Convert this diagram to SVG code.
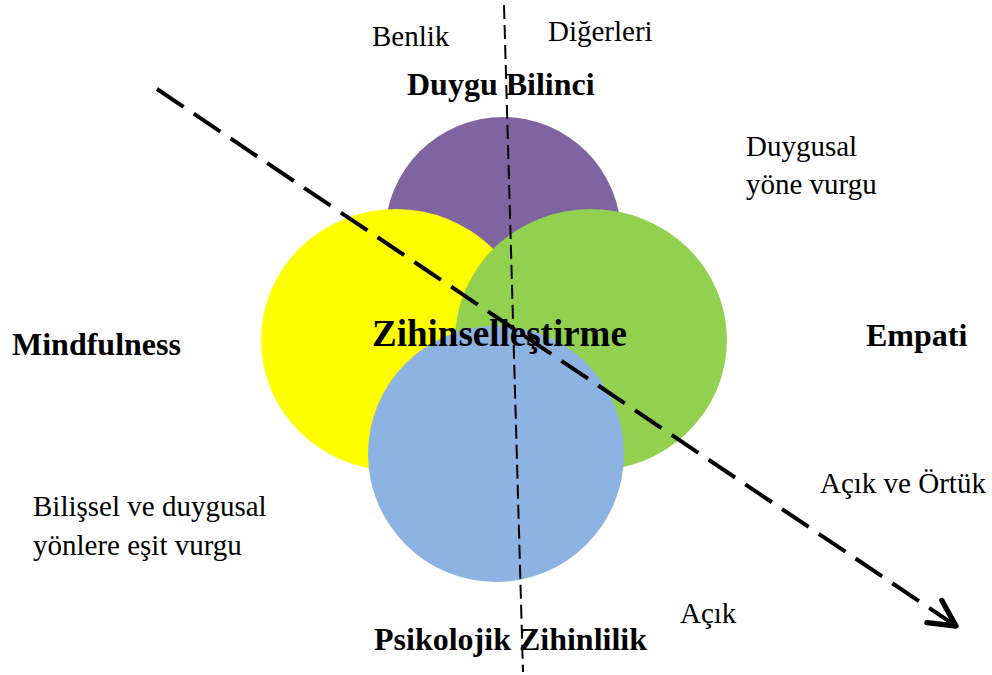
<svg xmlns="http://www.w3.org/2000/svg" width="992" height="675" viewBox="0 0 992 675">
<style>
.t{font-family:"Liberation Serif","Times New Roman",serif;font-size:29px;fill:#000}
.b{font-family:"Liberation Serif","Times New Roman",serif;font-size:32px;font-weight:bold;fill:#000}
.thin{stroke:#000;stroke-width:2;stroke-dasharray:14 6;fill:none}
.thick{stroke:#000;stroke-width:4;stroke-dasharray:32 12.3;fill:none}
</style>
<defs>
<marker id="arrow" markerUnits="userSpaceOnUse" markerWidth="40" markerHeight="40" viewBox="-25 -15 30 30" refX="0" refY="0" orient="auto">
<path d="M-19.5,-10 L0,0 L-19.5,10" fill="none" stroke="#000" stroke-width="4" stroke-linecap="round" stroke-linejoin="round"/>
</marker>
</defs>
<rect width="992" height="675" fill="#fff"/>
<g id="duygu-bilinci-circle"><circle cx="503" cy="235" r="118" fill="#8064A2"/></g>
<g id="mindfulness-circle"><ellipse cx="396" cy="340" rx="135" ry="131" fill="#FFFF00"/></g>
<g id="empati-circle"><ellipse cx="591" cy="340" rx="136" ry="131" fill="#92D050"/></g>
<g id="psikolojik-circle"><circle cx="496" cy="454" r="128" fill="#8DB3E2"/></g>
<g id="connectors">
<line class="thin" x1="504" y1="5" x2="523" y2="672"/>
<line class="thick" x1="157" y1="89" x2="956" y2="626" marker-end="url(#arrow)"/>
</g>
<g id="center"><text class="b" x="372" y="346" style="font-size:37px">Zihinselleştirme</text></g>
<g id="duygu-bilinci"><text class="b" x="407" y="95">Duygu Bilinci</text></g>
<g id="mindfulness"><text class="b" x="12" y="355">Mindfulness</text></g>
<g id="empati"><text class="b" x="866" y="346">Empati</text></g>
<g id="psikolojik"><text class="b" x="374" y="650">Psikolojik Zihinlilik</text></g>
<g id="benlik"><text class="t" x="372" y="46">Benlik</text></g>
<g id="digerleri"><text class="t" x="548" y="41">Diğerleri</text></g>
<g id="duygusal"><text class="t" x="746" y="156">Duygusal</text><text class="t" x="746" y="194">yöne vurgu</text></g>
<g id="bilissel"><text class="t" x="33" y="516">Bilişsel ve duygusal</text><text class="t" x="33" y="555">yönlere eşit vurgu</text></g>
<g id="acik-ortuk"><text class="t" x="820" y="493">Açık ve Örtük</text></g>
<g id="acik"><text class="t" x="680" y="623">Açık</text></g>
</svg>
